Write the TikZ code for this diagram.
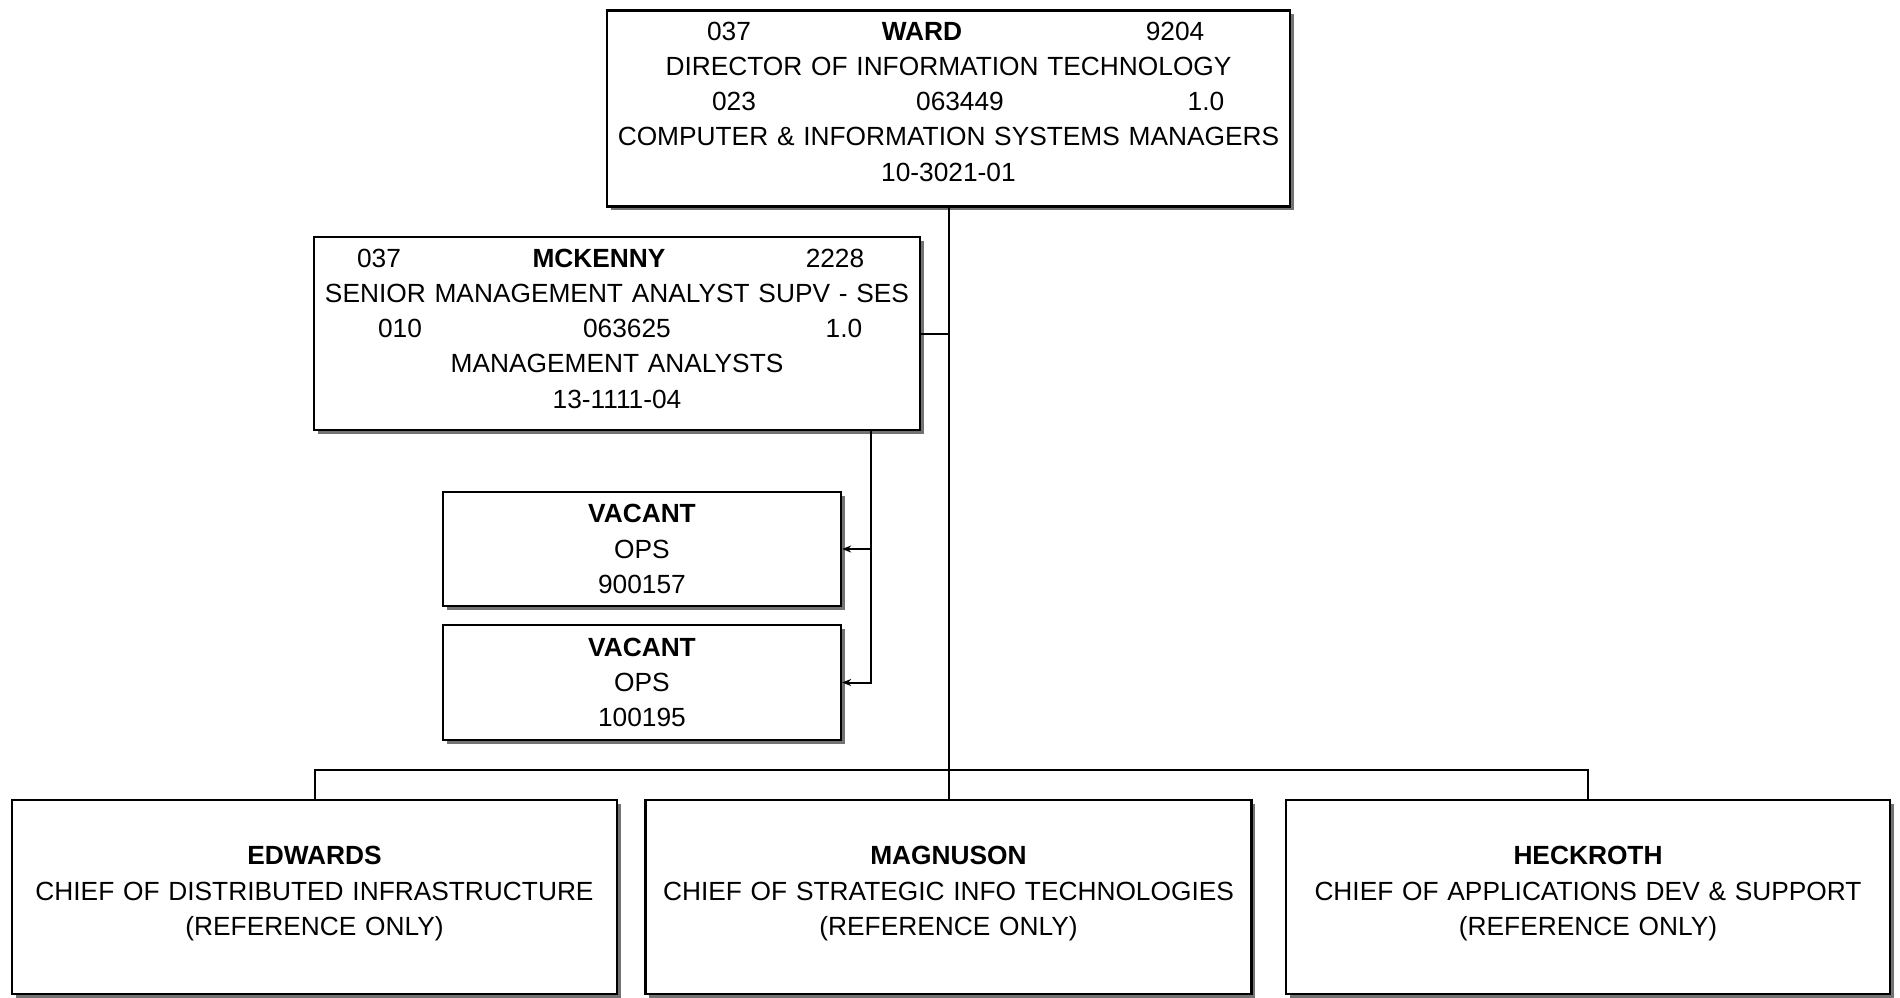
\documentclass[tikz,border=0pt]{standalone}
\usepackage{fontspec}
\setmainfont{Liberation Sans}
\usetikzlibrary{arrows.meta,positioning,calc,shadows}
\newcommand{\chartfont}{\fontsize{26.3}{35.3}\selectfont}
% one line with three items centred at given offsets from the left side
\newcommand{\tri}[6]{\makebox[\hsize][l]{\rlap{\hspace*{#1pt}\makebox[0pt]{#4}}\rlap{\hspace*{#2pt}\makebox[0pt]{#5}}\hspace*{#3pt}\makebox[0pt]{#6}}}
% extra depth under the last line, lifts the text in its box
\newcommand{\lift}[1]{\rule[-#1pt]{0pt}{#1pt}}
\tikzset{>=Stealth,every node/.style={font=\chartfont},post/.style={draw,line width=2.3pt,
 fill=white,inner sep=0pt,align=center,general shadow={fill=black!55,shadow xshift=3.5pt,
 shadow yshift=-3.5pt}},link/.style={draw,line width=2pt}}
\begin{document}
\begin{tikzpicture}[x=1pt,y=-1pt]
\useasboundingbox (0,0) rectangle (1900,997);
\node[post,minimum width=683pt,text width=683pt,minimum height=196pt] (ward) at (948.5,108.5)
 {\tri{122}{315}{568}{037}{\textbf{WARD}}{9204}\\DIRECTOR OF INFORMATION TECHNOLOGY\\
 \tri{127}{353}{599}{023}{063449}{1.0}\\COMPUTER \& INFORMATION SYSTEMS MANAGERS\\10-3021-01\lift{14}};
\node[post,minimum width=606pt,text width=606pt,minimum height=193pt] (mckenny) at (617,333.5)
 {\tri{65}{285}{521}{037}{\textbf{MCKENNY}}{2228}\\SENIOR MANAGEMENT ANALYST SUPV - SES\\
 \tri{86}{313}{530}{010}{063625}{1.0}\\MANAGEMENT ANALYSTS\\13-1111-04\lift{10}};
\node[post,minimum width=398pt,text width=398pt,minimum height=114pt] (vac1) at (642,549)
 {\textbf{VACANT}\\OPS\\900157};
\node[post,minimum width=398pt,text width=398pt,minimum height=115pt] (vac2) at (642,682.5)
 {\textbf{VACANT}\\OPS\\100195};
\node[post,minimum width=605pt,text width=605pt,minimum height=194pt] (edwards) at (314.5,897)
 {\textbf{EDWARDS}\\CHIEF OF DISTRIBUTED INFRASTRUCTURE\\(REFERENCE ONLY)\lift{12}};
\node[post,minimum width=606pt,text width=606pt,minimum height=194pt] (magnuson) at (948.5,897)
 {\textbf{MAGNUSON}\\CHIEF OF STRATEGIC INFO TECHNOLOGIES\\(REFERENCE ONLY)\lift{12}};
\node[post,minimum width=604pt,text width=604pt,minimum height=194pt] (heckroth) at (1588,897)
 {\textbf{HECKROTH}\\CHIEF OF APPLICATIONS DEV \& SUPPORT\\(REFERENCE ONLY)\lift{12}};
% connectors
\draw[link] (ward.south) -- (magnuson.north);
\draw[link] (mckenny.east) -- (mckenny.east -| ward.south);
\draw[link] (edwards.north) -- ++(0,-29) -| (heckroth.north);
\coordinate (mckdrop) at ($(mckenny.south east)+(-50,0)$);
\draw[link,-{Stealth[length=9pt,width=7pt]}] (mckdrop) |- (vac1.east);
\draw[link,-{Stealth[length=9pt,width=7pt]}] (mckdrop) |- (vac2.east);
\end{tikzpicture}
\end{document}
